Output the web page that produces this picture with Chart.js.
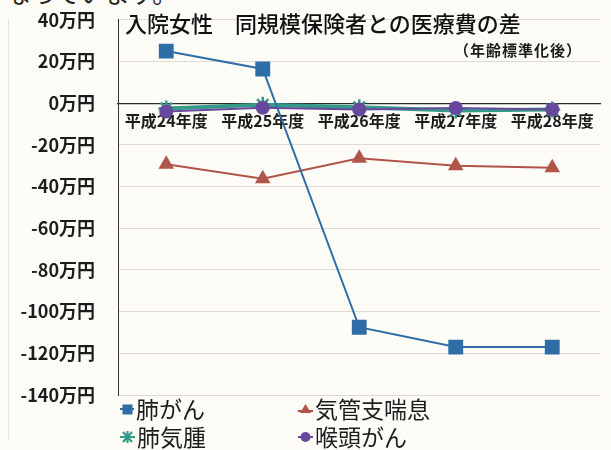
<!DOCTYPE html>
<html lang="ja">
<head>
<meta charset="utf-8">
<title>入院女性 同規模保険者との医療費の差</title>
<script src="https://cdn.jsdelivr.net/npm/chart.js@4/dist/chart.umd.min.js"></script>
<style>
  html, body { margin: 0; padding: 0; background: #fefcf7; }
  body { width: 611px; height: 450px; position: relative; overflow: hidden;
         font-family: "Noto Sans CJK JP", "Noto Sans", sans-serif; color: #1c1c1c; }
  #wrap { position: absolute; left: 0; top: -14px; width: 611px; height: 450px; }
  .txt { position: absolute; white-space: nowrap; line-height: 1; }
  #lead { left: 6px; top: -20px; font-size: 25px; color: #222; }
  #title { left: 125px; top: 11px; font-size: 22px; font-weight: 500; color: #111; }
  #sub { left: 454px; top: 42px; font-size: 15px; font-weight: bold; letter-spacing: 1px; }
  #pageEdge { position: absolute; left: 8px; top: 20px; height: 420px; border-left: 1px dotted #cfcfcf; }
  .leg { position: absolute; display: flex; align-items: center; font-size: 23px; line-height: 1; }
  .leg svg { margin-right: 2px; }
</style>
</head>
<body>
<div id="pageEdge"></div>
<div class="txt" id="lead">なっています。</div>
<div id="wrap"><canvas id="c" width="611" height="450"></canvas></div>
<div class="txt" id="title">入院女性　同規模保険者との医療費の差</div>
<div class="txt" id="sub">（年齢標準化後）</div>
<div id="legend"></div>
<script>
// fiscal years
const years = ['平成24年度', '平成25年度', '平成26年度', '平成27年度', '平成28年度'];

// difference from insurers of the same size (unit: 万円)
const lungCancer = [25, 16.4, -107.5, -117, -117];
const bronchialAsthma = [-29.3, -36.3, -26.4, -30, -31];
const emphysema = [-2.5, -0.8, -2, -3.5, -3];
const laryngealCancer = [-4, -2.2, -3, -2.3, -3];

// y-axis range and step (万円)
const yMin = -140;
const yMax = 40;
const yStep = 20;

const seriesNames = ['肺がん', '気管支喘息', '肺気腫', '喉頭がん'];

const blue = '#2f6da6';
const red = '#b0554a';
const green = '#35998a';
const purple = '#66489c';

const datasets = [
  { label: seriesNames[0], data: lungCancer, borderColor: blue, backgroundColor: blue,
    borderWidth: 2, pointStyle: 'rect', pointRadius: 10.5, pointBorderWidth: 0, order: 0 },
  { label: seriesNames[1], data: bronchialAsthma, borderColor: red, backgroundColor: red,
    borderWidth: 2, pointStyle: 'triangle', pointRadius: 9, pointBorderWidth: 0, order: 3 },
  { label: seriesNames[2], data: emphysema, borderColor: green, backgroundColor: green,
    borderWidth: 4, pointStyle: 'star', pointRadius: 8, pointBorderWidth: 2.5, order: 2 },
  { label: seriesNames[3], data: laryngealCancer, borderColor: purple, backgroundColor: purple,
    borderWidth: 2, pointStyle: 'circle', pointRadius: 7, pointBorderWidth: 0, order: 1 }
];

const fontFamily = '"Noto Sans CJK JP", "Noto Sans", sans-serif';

new Chart(document.getElementById('c'), {
  type: 'line',
  data: { labels: years, datasets: datasets },
  options: {
    responsive: false,
    animation: false,
    layout: { padding: { left: 0, top: 5, right: 2, bottom: 41 } },
    plugins: { legend: { display: false }, tooltip: { enabled: false } },
    elements: { line: { tension: 0 } },
    scales: {
      x: {
        type: 'category',
        position: { y: 0 },
        offset: true,
        grid: { display: false, drawTicks: false },
        border: { display: true, color: '#2a2a2a', width: 1.2 },
        ticks: {
          color: '#1c1c1c', padding: 8, maxRotation: 0, autoSkip: false,
          font: { family: fontFamily, size: 16, weight: 'bold' }
        }
      },
      y: {
        min: yMin, max: yMax,
        grid: { color: '#dedbd5', lineWidth: 1, drawTicks: false },
        border: { display: true, color: '#333', width: 1 },
        afterFit: (scale) => { scale.width = 118; },
        ticks: {
          stepSize: yStep, padding: 23, color: '#1c1c1c',
          font: { family: fontFamily, size: 18, weight: 'bold' },
          callback: (v) => v + '万円'
        }
      }
    }
  }
});

// legend: two columns, two rows
const markerSvg = {
  rect: (c) => `<svg width="14" height="14"><line x1="0" y1="7" x2="14" y2="7" stroke="${c}" stroke-width="2"/><rect x="2.5" y="2.5" width="10" height="10" fill="${c}"/></svg>`,
  triangle: (c) => `<svg width="15" height="14"><line x1="0" y1="9" x2="15" y2="9" stroke="${c}" stroke-width="2"/><polygon points="7.5,2 13,11 2,11" fill="${c}"/></svg>`,
  star: (c) => `<svg width="15" height="14"><line x1="0" y1="7" x2="15" y2="7" stroke="${c}" stroke-width="2"/><path d="M3 2 L12 12 M12 2 L3 12 M7.5 1 L7.5 13" stroke="${c}" stroke-width="2.2"/></svg>`,
  circle: (c) => `<svg width="15" height="14"><line x1="0" y1="7" x2="15" y2="7" stroke="${c}" stroke-width="2"/><circle cx="7.5" cy="7" r="5" fill="${c}"/></svg>`
};
const legendPos = [
  { left: 120, top: 397 }, { left: 298, top: 397 },
  { left: 120, top: 425 }, { left: 298, top: 425 }
];
const legendEl = document.getElementById('legend');
datasets.forEach((ds, i) => {
  const item = document.createElement('div');
  item.className = 'leg';
  item.style.left = legendPos[i].left + 'px';
  item.style.top = legendPos[i].top + 'px';
  item.innerHTML = markerSvg[ds.pointStyle](ds.borderColor) + '<span>' + ds.label + '</span>';
  legendEl.appendChild(item);
});
</script>
</body>
</html>
